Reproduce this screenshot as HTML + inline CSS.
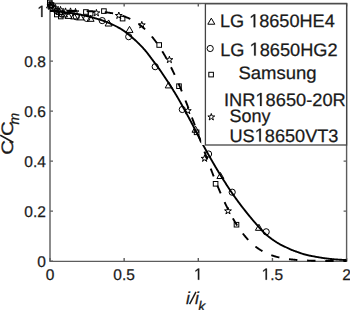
<!DOCTYPE html><html><head><meta charset="utf-8"><style>html,body{margin:0;padding:0;background:#fff;}svg{display:block;font-family:"Liberation Sans",sans-serif;text-rendering:geometricPrecision;} .mk{fill:none;stroke:#000;stroke-width:1;} .t{stroke:#1a1a1a;stroke-width:0.25px;} .h1{fill:transparent;stroke:none;} </style></head><body>
<svg width="350" height="310" viewBox="0 0 350 310">
<rect width="350" height="310" fill="#fff"/>
<g stroke="#5c5c5c" stroke-width="1.4" fill="none">
<path d="M50.0,3.5 H346.6 V261.40000000000003 H50.0 Z"/>
<path d="M50.0,261.10 h3 M346.6,261.10 h-3"/>
<path d="M50.0,211.10 h3 M346.6,211.10 h-3"/>
<path d="M50.0,161.10 h3 M346.6,161.10 h-3"/>
<path d="M50.0,111.10 h3 M346.6,111.10 h-3"/>
<path d="M50.0,61.10 h3 M346.6,61.10 h-3"/>
<path d="M50.0,11.10 h3 M346.6,11.10 h-3"/>
<path d="M50.00,261.1 v-3 M50.00,3.5 v3"/>
<path d="M124.15,261.1 v-3 M124.15,3.5 v3"/>
<path d="M198.30,261.1 v-3 M198.30,3.5 v3"/>
<path d="M272.45,261.1 v-3 M272.45,3.5 v3"/>
<path d="M346.60,261.1 v-3 M346.60,3.5 v3"/>
</g>
<path d="M50.00,11.00 L50.50,11.02 L51.00,11.05 L51.50,11.07 L52.00,11.10 L52.50,11.13 L53.00,11.16 L53.50,11.19 L54.00,11.22 L54.50,11.26 L55.00,11.29 L55.50,11.33 L56.00,11.37 L56.50,11.41 L57.00,11.45 L57.50,11.50 L58.00,11.54 L58.50,11.59 L59.00,11.63 L59.50,11.68 L60.00,11.73 L60.50,11.78 L61.00,11.83 L61.50,11.88 L62.00,11.94 L62.50,11.99 L63.00,12.05 L63.50,12.10 L64.00,12.16 L64.50,12.22 L65.00,12.28 L65.50,12.34 L66.00,12.40 L66.50,12.46 L67.00,12.52 L67.50,12.58 L68.00,12.64 L68.50,12.71 L69.00,12.77 L69.50,12.84 L70.00,12.90 L70.50,12.97 L71.00,13.03 L71.50,13.10 L72.00,13.18 L72.50,13.25 L73.00,13.32 L73.50,13.40 L74.00,13.48 L74.50,13.56 L75.00,13.64 L75.50,13.73 L76.00,13.82 L76.50,13.90 L77.00,13.99 L77.50,14.08 L78.00,14.18 L78.50,14.27 L79.00,14.37 L79.50,14.47 L80.00,14.57 L80.50,14.67 L81.00,14.77 L81.50,14.87 L82.00,14.98 L82.50,15.09 L83.00,15.20 L83.50,15.31 L84.00,15.42 L84.50,15.53 L85.00,15.65 L85.50,15.76 L86.00,15.88 L86.50,16.00 L87.00,16.12 L87.50,16.24 L88.00,16.37 L88.50,16.49 L89.00,16.62 L89.50,16.74 L90.00,16.87 L90.50,17.00 L91.00,17.14 L91.50,17.27 L92.00,17.40 L92.50,17.54 L93.00,17.67 L93.50,17.81 L94.00,17.95 L94.50,18.09 L95.00,18.23 L95.50,18.37 L96.00,18.52 L96.50,18.66 L97.00,18.81 L97.50,18.95 L98.00,19.10 L98.50,19.25 L99.00,19.40 L99.50,19.55 L100.00,19.70 L100.50,19.85 L101.00,20.01 L101.50,20.17 L102.00,20.34 L102.50,20.50 L103.00,20.67 L103.50,20.85 L104.00,21.02 L104.50,21.20 L105.00,21.39 L105.50,21.58 L106.00,21.77 L106.50,21.96 L107.00,22.16 L107.50,22.36 L108.00,22.56 L108.50,22.77 L109.00,22.98 L109.50,23.19 L110.00,23.40 L110.50,23.62 L111.00,23.85 L111.50,24.07 L112.00,24.30 L112.50,24.53 L113.00,24.77 L113.50,25.01 L114.00,25.25 L114.50,25.50 L115.00,25.74 L115.50,25.99 L116.00,26.25 L116.50,26.51 L117.00,26.77 L117.50,27.03 L118.00,27.30 L118.50,27.57 L119.00,27.84 L119.50,28.12 L120.00,28.40 L120.50,28.69 L121.00,28.99 L121.50,29.30 L122.00,29.62 L122.50,29.95 L123.00,30.29 L123.50,30.63 L124.00,30.99 L124.50,31.35 L125.00,31.73 L125.50,32.10 L126.00,32.49 L126.50,32.88 L127.00,33.27 L127.50,33.67 L128.00,34.08 L128.50,34.48 L129.00,34.89 L129.50,35.30 L130.00,35.72 L130.50,36.13 L131.00,36.55 L131.50,36.97 L132.00,37.38 L132.50,37.80 L133.00,38.23 L133.50,38.66 L134.00,39.10 L134.50,39.55 L135.00,40.00 L135.50,40.46 L136.00,40.92 L136.50,41.39 L137.00,41.86 L137.50,42.34 L138.00,42.82 L138.50,43.31 L139.00,43.80 L139.50,44.30 L140.00,44.80 L140.50,45.31 L141.00,45.82 L141.50,46.35 L142.00,46.87 L142.50,47.41 L143.00,47.95 L143.50,48.51 L144.00,49.07 L144.50,49.64 L145.00,50.21 L145.50,50.80 L146.00,51.40 L146.50,52.01 L147.00,52.64 L147.50,53.28 L148.00,53.93 L148.50,54.59 L149.00,55.25 L149.50,55.92 L150.00,56.59 L150.50,57.26 L151.00,57.93 L151.50,58.60 L152.00,59.27 L152.50,59.93 L153.00,60.59 L153.50,61.25 L154.00,61.92 L154.50,62.58 L155.00,63.25 L155.50,63.92 L156.00,64.59 L156.50,65.26 L157.00,65.94 L157.50,66.62 L158.00,67.30 L158.50,67.99 L159.00,68.68 L159.50,69.38 L160.00,70.09 L160.50,70.80 L161.00,71.52 L161.50,72.24 L162.00,72.98 L162.50,73.71 L163.00,74.46 L163.50,75.21 L164.00,75.96 L164.50,76.72 L165.00,77.48 L165.50,78.25 L166.00,79.01 L166.50,79.78 L167.00,80.55 L167.50,81.32 L168.00,82.09 L168.50,82.86 L169.00,83.63 L169.50,84.40 L170.00,85.17 L170.50,85.94 L171.00,86.71 L171.50,87.49 L172.00,88.27 L172.50,89.05 L173.00,89.84 L173.50,90.64 L174.00,91.44 L174.50,92.25 L175.00,93.07 L175.50,93.90 L176.00,94.74 L176.50,95.58 L177.00,96.43 L177.50,97.28 L178.00,98.15 L178.50,99.01 L179.00,99.89 L179.50,100.76 L180.00,101.65 L180.50,102.54 L181.00,103.43 L181.50,104.32 L182.00,105.22 L182.50,106.13 L183.00,107.03 L183.50,107.94 L184.00,108.85 L184.50,109.77 L185.00,110.69 L185.50,111.61 L186.00,112.53 L186.50,113.45 L187.00,114.37 L187.50,115.30 L188.00,116.22 L188.50,117.15 L189.00,118.07 L189.50,119.00 L190.00,119.93 L190.50,120.87 L191.00,121.81 L191.50,122.76 L192.00,123.71 L192.50,124.67 L193.00,125.63 L193.50,126.60 L194.00,127.57 L194.50,128.54 L195.00,129.52 L195.50,130.49 L196.00,131.47 L196.50,132.44 L197.00,133.42 L197.50,134.39 L198.00,135.36 L198.50,136.33 L199.00,137.30 L199.50,138.26 L200.00,139.22 L200.50,140.17 L201.00,141.12 L201.50,142.06 L202.00,142.99 L202.50,143.92 L203.00,144.84 L203.50,145.75 L204.00,146.65 L204.50,147.56 L205.00,148.47 L205.50,149.37 L206.00,150.27 L206.50,151.17 L207.00,152.07 L207.50,152.96 L208.00,153.85 L208.50,154.74 L209.00,155.63 L209.50,156.51 L210.00,157.40 L210.50,158.27 L211.00,159.15 L211.50,160.02 L212.00,160.89 L212.50,161.76 L213.00,162.63 L213.50,163.49 L214.00,164.34 L214.50,165.20 L215.00,166.05 L215.50,166.90 L216.00,167.74 L216.50,168.58 L217.00,169.42 L217.50,170.25 L218.00,171.08 L218.50,171.90 L219.00,172.72 L219.50,173.54 L220.00,174.35 L220.50,175.16 L221.00,175.97 L221.50,176.77 L222.00,177.57 L222.50,178.37 L223.00,179.17 L223.50,179.96 L224.00,180.75 L224.50,181.54 L225.00,182.32 L225.50,183.10 L226.00,183.88 L226.50,184.66 L227.00,185.43 L227.50,186.20 L228.00,186.97 L228.50,187.73 L229.00,188.49 L229.50,189.24 L230.00,189.99 L230.50,190.74 L231.00,191.48 L231.50,192.22 L232.00,192.95 L232.50,193.68 L233.00,194.40 L233.50,195.12 L234.00,195.84 L234.50,196.55 L235.00,197.25 L235.50,197.95 L236.00,198.65 L236.50,199.34 L237.00,200.02 L237.50,200.71 L238.00,201.39 L238.50,202.06 L239.00,202.73 L239.50,203.40 L240.00,204.07 L240.50,204.74 L241.00,205.40 L241.50,206.05 L242.00,206.71 L242.50,207.36 L243.00,208.01 L243.50,208.65 L244.00,209.29 L244.50,209.93 L245.00,210.57 L245.50,211.20 L246.00,211.83 L246.50,212.46 L247.00,213.08 L247.50,213.70 L248.00,214.32 L248.50,214.94 L249.00,215.55 L249.50,216.16 L250.00,216.76 L250.50,217.36 L251.00,217.96 L251.50,218.56 L252.00,219.15 L252.50,219.75 L253.00,220.33 L253.50,220.92 L254.00,221.50 L254.50,222.08 L255.00,222.66 L255.50,223.23 L256.00,223.80 L256.50,224.37 L257.00,224.94 L257.50,225.51 L258.00,226.09 L258.50,226.66 L259.00,227.22 L259.50,227.79 L260.00,228.35 L260.50,228.91 L261.00,229.46 L261.50,230.00 L262.00,230.54 L262.50,231.06 L263.00,231.58 L263.50,232.09 L264.00,232.59 L264.50,233.07 L265.00,233.54 L265.50,234.00 L266.00,234.44 L266.50,234.87 L267.00,235.29 L267.50,235.70 L268.00,236.11 L268.50,236.52 L269.00,236.91 L269.50,237.30 L270.00,237.69 L270.50,238.07 L271.00,238.44 L271.50,238.81 L272.00,239.18 L272.50,239.53 L273.00,239.89 L273.50,240.23 L274.00,240.58 L274.50,240.91 L275.00,241.25 L275.50,241.57 L276.00,241.90 L276.50,242.21 L277.00,242.53 L277.50,242.83 L278.00,243.14 L278.50,243.43 L279.00,243.73 L279.50,244.02 L280.00,244.30 L280.50,244.58 L281.00,244.84 L281.50,245.10 L282.00,245.35 L282.50,245.59 L283.00,245.83 L283.50,246.06 L284.00,246.30 L284.50,246.53 L285.00,246.77 L285.50,247.00 L286.00,247.25 L286.50,247.49 L287.00,247.74 L287.50,247.98 L288.00,248.23 L288.50,248.47 L289.00,248.72 L289.50,248.95 L290.00,249.19 L290.50,249.41 L291.00,249.63 L291.50,249.84 L292.00,250.04 L292.50,250.24 L293.00,250.43 L293.50,250.62 L294.00,250.80 L294.50,250.98 L295.00,251.16 L295.50,251.34 L296.00,251.51 L296.50,251.69 L297.00,251.86 L297.50,252.04 L298.00,252.22 L298.50,252.40 L299.00,252.58 L299.50,252.76 L300.00,252.94 L300.50,253.12 L301.00,253.29 L301.50,253.46 L302.00,253.62 L302.50,253.78 L303.00,253.93 L303.50,254.08 L304.00,254.22 L304.50,254.36 L305.00,254.50 L305.50,254.64 L306.00,254.77 L306.50,254.90 L307.00,255.02 L307.50,255.15 L308.00,255.26 L308.50,255.38 L309.00,255.49 L309.50,255.59 L310.00,255.70 L310.50,255.80 L311.00,255.89 L311.50,255.99 L312.00,256.08 L312.50,256.17 L313.00,256.26 L313.50,256.35 L314.00,256.44 L314.50,256.54 L315.00,256.63 L315.50,256.72 L316.00,256.81 L316.50,256.90 L317.00,256.99 L317.50,257.07 L318.00,257.16 L318.50,257.25 L319.00,257.33 L319.50,257.42 L320.00,257.50 L320.50,257.59 L321.00,257.67 L321.50,257.76 L322.00,257.84 L322.50,257.93 L323.00,258.01 L323.50,258.08 L324.00,258.16 L324.50,258.23 L325.00,258.30 L325.50,258.36 L326.00,258.43 L326.50,258.49 L327.00,258.56 L327.50,258.62 L328.00,258.68 L328.50,258.74 L329.00,258.80 L329.50,258.86 L330.00,258.91 L330.50,258.97 L331.00,259.02 L331.50,259.07 L332.00,259.12 L332.50,259.16 L333.00,259.21 L333.50,259.25 L334.00,259.29 L334.50,259.33 L335.00,259.37 L335.50,259.41 L336.00,259.45 L336.50,259.48 L337.00,259.52 L337.50,259.55 L338.00,259.58 L338.50,259.62 L339.00,259.65 L339.50,259.68 L340.00,259.71 L340.50,259.74 L341.00,259.77 L341.50,259.81 L342.00,259.84 L342.50,259.87 L343.00,259.90 L343.50,259.93 L344.00,259.96 L344.50,259.99 L345.00,260.01 L345.50,260.04 L346.00,260.07 L346.50,260.09" fill="none" stroke="#000" stroke-width="1.9" stroke-linejoin="round"/>
<path d="M50.00,11.00 L50.50,11.00 L51.00,11.00 L51.50,11.00 L52.00,11.00 L52.50,11.00 L53.00,11.00 L53.50,11.00 L54.00,11.00 L54.50,11.00 L55.00,11.00 L55.50,11.00 L56.00,11.00 L56.50,11.00 L57.00,11.00 L57.50,11.00 L58.00,11.00 L58.50,11.00 L59.00,11.00 L59.50,11.00 L60.00,11.00 L60.50,11.00 L61.00,11.00 L61.50,11.00 L62.00,11.00 L62.50,11.00 L63.00,11.00 L63.50,11.00 L64.00,11.00 L64.50,11.00 L65.00,11.00 L65.50,11.00 L66.00,11.00 L66.50,11.00 L67.00,11.00 L67.50,11.00 L68.00,11.00 L68.50,11.00 L69.00,11.01 L69.50,11.01 L70.00,11.01 L70.50,11.01 L71.00,11.01 L71.50,11.01 L72.00,11.01 L72.50,11.01 L73.00,11.01 L73.50,11.02 L74.00,11.02 L74.50,11.02 L75.00,11.02 L75.50,11.02 L76.00,11.03 L76.50,11.03 L77.00,11.03 L77.50,11.04 L78.00,11.04 L78.50,11.04 L79.00,11.05 L79.50,11.05 L80.00,11.06 L80.50,11.06 L81.00,11.07 L81.50,11.07 L82.00,11.08 L82.50,11.08 L83.00,11.09 L83.50,11.10 L84.00,11.10 L84.50,11.11 L85.00,11.12 L85.50,11.13 L86.00,11.14 L86.50,11.15 L87.00,11.16 L87.50,11.17 L88.00,11.18 L88.50,11.20 L89.00,11.21 L89.50,11.22 L90.00,11.24 L90.50,11.25 L91.00,11.27 L91.50,11.29 L92.00,11.31 L92.50,11.32 L93.00,11.34 L93.50,11.37 L94.00,11.39 L94.50,11.41 L95.00,11.43 L95.50,11.46 L96.00,11.48 L96.50,11.51 L97.00,11.54 L97.50,11.57 L98.00,11.60 L98.50,11.63 L99.00,11.67 L99.50,11.70 L100.00,11.74 L100.50,11.78 L101.00,11.82 L101.50,11.86 L102.00,11.90 L102.50,11.95 L103.00,11.99 L103.50,12.04 L104.00,12.09 L104.50,12.14 L105.00,12.20 L105.50,12.25 L106.00,12.31 L106.50,12.37 L107.00,12.43 L107.50,12.50 L108.00,12.57 L108.50,12.64 L109.00,12.71 L109.50,12.78 L110.00,12.86 L110.50,12.94 L111.00,13.02 L111.50,13.10 L112.00,13.19 L112.50,13.28 L113.00,13.38 L113.50,13.47 L114.00,13.57 L114.50,13.68 L115.00,13.78 L115.50,13.89 L116.00,14.00 L116.50,14.12 L117.00,14.24 L117.50,14.36 L118.00,14.49 L118.50,14.62 L119.00,14.76 L119.50,14.89 L120.00,15.04 L120.50,15.18 L121.00,15.34 L121.50,15.49 L122.00,15.65 L122.50,15.81 L123.00,15.98 L123.50,16.16 L124.00,16.33 L124.50,16.52 L125.00,16.70 L125.50,16.90 L126.00,17.09 L126.50,17.30 L127.00,17.51 L127.50,17.72 L128.00,17.94 L128.50,18.16 L129.00,18.39 L129.50,18.63 L130.00,18.87 L130.50,19.12 L131.00,19.37 L131.50,19.63 L132.00,19.90 L132.50,20.17 L133.00,20.45 L133.50,20.73 L134.00,21.02 L134.50,21.32 L135.00,21.63 L135.50,21.94 L136.00,22.26 L136.50,22.58 L137.00,22.92 L137.50,23.26 L138.00,23.61 L138.50,23.96 L139.00,24.33 L139.50,24.70 L140.00,25.08 L140.50,25.46 L141.00,25.86 L141.50,26.26 L142.00,26.67 L142.50,27.09 L143.00,27.52 L143.50,27.95 L144.00,28.40 L144.50,28.85 L145.00,29.31 L145.50,29.78 L146.00,30.26 L146.50,30.75 L147.00,31.25 L147.50,31.76 L148.00,32.28 L148.50,32.80 L149.00,33.34 L149.50,33.88 L150.00,34.44 L150.50,35.00 L151.00,35.58 L151.50,36.16 L152.00,36.76 L152.50,37.36 L153.00,37.97 L153.50,38.60 L154.00,39.23 L154.50,39.88 L155.00,40.53 L155.50,41.20 L156.00,41.88 L156.50,42.56 L157.00,43.26 L157.50,43.97 L158.00,44.69 L158.50,45.42 L159.00,46.16 L159.50,46.91 L160.00,47.67 L160.50,48.44 L161.00,49.23 L161.50,50.02 L162.00,50.83 L162.50,51.64 L163.00,52.47 L163.50,53.31 L164.00,54.16 L164.50,55.02 L165.00,55.89 L165.50,56.77 L166.00,57.67 L166.50,58.57 L167.00,59.49 L167.50,60.41 L168.00,61.35 L168.50,62.30 L169.00,63.26 L169.50,64.23 L170.00,65.21 L170.50,66.20 L171.00,67.20 L171.50,68.22 L172.00,69.24 L172.50,70.28 L173.00,71.32 L173.50,72.37 L174.00,73.44 L174.50,74.52 L175.00,75.60 L175.50,76.70 L176.00,77.80 L176.50,78.92 L177.00,80.04 L177.50,81.18 L178.00,82.32 L178.50,83.48 L179.00,84.64 L179.50,85.81 L180.00,87.00 L180.50,88.19 L181.00,89.38 L181.50,90.59 L182.00,91.81 L182.50,93.03 L183.00,94.26 L183.50,95.50 L184.00,96.75 L184.50,98.01 L185.00,99.27 L185.50,100.54 L186.00,101.82 L186.50,103.10 L187.00,104.39 L187.50,105.69 L188.00,106.99 L188.50,108.30 L189.00,109.62 L189.50,110.94 L190.00,112.26 L190.50,113.59 L191.00,114.93 L191.50,116.27 L192.00,117.61 L192.50,118.96 L193.00,120.31 L193.50,121.67 L194.00,123.03 L194.50,124.39 L195.00,125.76 L195.50,127.13 L196.00,128.50 L196.50,129.87 L197.00,131.24 L197.50,132.62 L198.00,134.00 L198.50,135.38 L199.00,136.76 L199.50,138.13 L200.00,139.51 L200.50,140.89 L201.00,142.27 L201.50,143.65 L202.00,145.03 L202.50,146.41 L203.00,147.78 L203.50,149.16 L204.00,150.53 L204.50,151.90 L205.00,153.26 L205.50,154.63 L206.00,155.99 L206.50,157.34 L207.00,158.70 L207.50,160.05 L208.00,161.39 L208.50,162.74 L209.00,164.07 L209.50,165.40 L210.00,166.73 L210.50,168.05 L211.00,169.37 L211.50,170.68 L212.00,171.98 L212.50,173.28 L213.00,174.57 L213.50,175.85 L214.00,177.12 L214.50,178.39 L215.00,179.65 L215.50,180.91 L216.00,182.15 L216.50,183.39 L217.00,184.62 L217.50,185.84 L218.00,187.05 L218.50,188.25 L219.00,189.45 L219.50,190.63 L220.00,191.80 L220.50,192.97 L221.00,194.12 L221.50,195.27 L222.00,196.40 L222.50,197.53 L223.00,198.64 L223.50,199.75 L224.00,200.84 L224.50,201.92 L225.00,202.99 L225.50,204.05 L226.00,205.10 L226.50,206.14 L227.00,207.16 L227.50,208.18 L228.00,209.18 L228.50,210.17 L229.00,211.15 L229.50,212.12 L230.00,213.08 L230.50,214.02 L231.00,214.95 L231.50,215.88 L232.00,216.78 L232.50,217.68 L233.00,218.57 L233.50,219.44 L234.00,220.30 L234.50,221.15 L235.00,221.99 L235.50,222.81 L236.00,223.62 L236.50,224.42 L237.00,225.21 L237.50,225.99 L238.00,226.75 L238.50,227.51 L239.00,228.25 L239.50,228.98 L240.00,229.69 L240.50,230.40 L241.00,231.09 L241.50,231.78 L242.00,232.45 L242.50,233.11 L243.00,233.76 L243.50,234.39 L244.00,235.02 L244.50,235.63 L245.00,236.23 L245.50,236.83 L246.00,237.41 L246.50,237.98 L247.00,238.54 L247.50,239.09 L248.00,239.63 L248.50,240.15 L249.00,240.67 L249.50,241.18 L250.00,241.68 L250.50,242.17 L251.00,242.64 L251.50,243.11 L252.00,243.57 L252.50,244.02 L253.00,244.46 L253.50,244.89 L254.00,245.31 L254.50,245.72 L255.00,246.12 L255.50,246.52 L256.00,246.90 L256.50,247.28 L257.00,247.65 L257.50,248.01 L258.00,248.36 L258.50,248.71 L259.00,249.04 L259.50,249.37 L260.00,249.69 L260.50,250.01 L261.00,250.31 L261.50,250.61 L262.00,250.90 L262.50,251.19 L263.00,251.47 L263.50,251.74 L264.00,252.00 L264.50,252.26 L265.00,252.51 L265.50,252.76 L266.00,253.00 L266.50,253.23 L267.00,253.46 L267.50,253.68 L268.00,253.89 L268.50,254.10 L269.00,254.31 L269.50,254.51 L270.00,254.70 L270.50,254.89 L271.00,255.07 L271.50,255.25 L272.00,255.43 L272.50,255.60 L273.00,255.76 L273.50,255.92 L274.00,256.08 L274.50,256.23 L275.00,256.38 L275.50,256.52 L276.00,256.66 L276.50,256.80 L277.00,256.93 L277.50,257.06 L278.00,257.18 L278.50,257.31 L279.00,257.42 L279.50,257.54 L280.00,257.65 L280.50,257.76 L281.00,257.86 L281.50,257.96 L282.00,258.06 L282.50,258.16 L283.00,258.25 L283.50,258.34 L284.00,258.43 L284.50,258.51 L285.00,258.60 L285.50,258.68 L286.00,258.75 L286.50,258.83 L287.00,258.90 L287.50,258.97 L288.00,259.04 L288.50,259.11 L289.00,259.17 L289.50,259.24 L290.00,259.30 L290.50,259.36 L291.00,259.41 L291.50,259.47 L292.00,259.52 L292.50,259.57 L293.00,259.62 L293.50,259.67 L294.00,259.72 L294.50,259.76 L295.00,259.81 L295.50,259.85 L296.00,259.89 L296.50,259.93 L297.00,259.97 L297.50,260.01 L298.00,260.05 L298.50,260.08 L299.00,260.12 L299.50,260.15 L300.00,260.18 L300.50,260.21 L301.00,260.24 L301.50,260.27 L302.00,260.30 L302.50,260.33 L303.00,260.35 L303.50,260.38 L304.00,260.40 L304.50,260.43 L305.00,260.45 L305.50,260.47 L306.00,260.49 L306.50,260.51 L307.00,260.53 L307.50,260.55 L308.00,260.57 L308.50,260.59 L309.00,260.61 L309.50,260.62 L310.00,260.64 L310.50,260.66 L311.00,260.67 L311.50,260.69 L312.00,260.70 L312.50,260.71 L313.00,260.73 L313.50,260.74 L314.00,260.75 L314.50,260.76 L315.00,260.78 L315.50,260.79 L316.00,260.80 L316.50,260.81 L317.00,260.82 L317.50,260.83 L318.00,260.84 L318.50,260.85 L319.00,260.86 L319.50,260.86 L320.00,260.87 L320.50,260.88 L321.00,260.89 L321.50,260.90 L322.00,260.90 L322.50,260.91 L323.00,260.92 L323.50,260.92 L324.00,260.93 L324.50,260.93 L325.00,260.94 L325.50,260.95 L326.00,260.95 L326.50,260.96 L327.00,260.96 L327.50,260.97 L328.00,260.97 L328.50,260.98 L329.00,260.98 L329.50,260.98 L330.00,260.99 L330.50,260.99 L331.00,261.00 L331.50,261.00 L332.00,261.00 L332.50,261.01 L333.00,261.01 L333.50,261.01 L334.00,261.02 L334.50,261.02 L335.00,261.02 L335.50,261.02 L336.00,261.03 L336.50,261.03 L337.00,261.03 L337.50,261.03 L338.00,261.04 L338.50,261.04 L339.00,261.04 L339.50,261.04 L340.00,261.05 L340.50,261.05 L341.00,261.05 L341.50,261.05 L342.00,261.05 L342.50,261.05 L343.00,261.06 L343.50,261.06 L344.00,261.06 L344.50,261.06 L345.00,261.06 L345.50,261.06 L346.00,261.06 L346.50,261.07" fill="none" stroke="#000" stroke-width="1.9" stroke-dasharray="8.40 9.76" stroke-dashoffset="-0.33"/>
<path d="M50.00,1.86 L53.50,7.92 L46.50,7.92 Z" class="mk"/>
<path d="M54.50,5.36 L58.00,11.42 L51.00,11.42 Z" class="mk"/>
<path d="M59.50,8.36 L63.00,14.42 L56.00,14.42 Z" class="mk"/>
<path d="M64.00,10.86 L67.50,16.92 L60.50,16.92 Z" class="mk"/>
<path d="M68.50,12.36 L72.00,18.42 L65.00,18.42 Z" class="mk"/>
<path d="M74.00,12.86 L77.50,18.92 L70.50,18.92 Z" class="mk"/>
<path d="M80.50,13.86 L84.00,19.92 L77.00,19.92 Z" class="mk"/>
<path d="M90.60,15.26 L94.10,21.32 L87.10,21.32 Z" class="mk"/>
<path d="M108.60,19.96 L112.10,26.02 L105.10,26.02 Z" class="mk"/>
<path d="M129.50,26.36 L133.00,32.42 L126.00,32.42 Z" class="mk"/>
<path d="M168.70,81.86 L172.20,87.92 L165.20,87.92 Z" class="mk"/>
<path d="M195.50,126.16 L199.00,132.22 L192.00,132.22 Z" class="mk"/>
<path d="M220.40,172.46 L223.90,178.52 L216.90,178.52 Z" class="mk"/>
<path d="M258.90,224.26 L262.40,230.32 L255.40,230.32 Z" class="mk"/>
<circle cx="50.50" cy="4.50" r="3.1" class="mk"/>
<circle cx="52.50" cy="7.50" r="3.1" class="mk"/>
<circle cx="57.00" cy="11.00" r="3.1" class="mk"/>
<circle cx="62.00" cy="14.00" r="3.1" class="mk"/>
<circle cx="76.30" cy="16.80" r="3.1" class="mk"/>
<circle cx="86.70" cy="18.40" r="3.1" class="mk"/>
<circle cx="102.20" cy="20.60" r="3.1" class="mk"/>
<circle cx="128.70" cy="36.70" r="3.1" class="mk"/>
<circle cx="155.20" cy="66.70" r="3.1" class="mk"/>
<circle cx="182.30" cy="109.50" r="3.1" class="mk"/>
<circle cx="208.60" cy="154.00" r="3.1" class="mk"/>
<circle cx="232.20" cy="192.20" r="3.1" class="mk"/>
<circle cx="266.20" cy="231.80" r="3.1" class="mk"/>
<rect x="47.50" y="0.20" width="4.6" height="4.6" class="mk"/>
<rect x="49.20" y="2.70" width="4.6" height="4.6" class="mk"/>
<rect x="54.50" y="12.20" width="4.6" height="4.6" class="mk"/>
<rect x="58.50" y="14.20" width="4.6" height="4.6" class="mk"/>
<rect x="83.60" y="9.70" width="4.6" height="4.6" class="mk"/>
<rect x="88.30" y="11.40" width="4.6" height="4.6" class="mk"/>
<rect x="101.60" y="8.80" width="4.6" height="4.6" class="mk"/>
<rect x="120.30" y="16.30" width="4.6" height="4.6" class="mk"/>
<rect x="156.90" y="42.70" width="4.6" height="4.6" class="mk"/>
<rect x="176.70" y="83.90" width="4.6" height="4.6" class="mk"/>
<rect x="194.30" y="130.00" width="4.6" height="4.6" class="mk"/>
<rect x="213.30" y="181.50" width="4.6" height="4.6" class="mk"/>
<rect x="234.20" y="222.40" width="4.6" height="4.6" class="mk"/>
<path d="M50.50,2.90 L51.31,5.39 L53.92,5.39 L51.81,6.92 L52.62,9.41 L50.50,7.88 L48.38,9.41 L49.19,6.92 L47.08,5.39 L49.69,5.39 Z" class="mk"/>
<path d="M55.50,4.40 L56.31,6.89 L58.92,6.89 L56.81,8.42 L57.62,10.91 L55.50,9.38 L53.38,10.91 L54.19,8.42 L52.08,6.89 L54.69,6.89 Z" class="mk"/>
<path d="M60.50,6.40 L61.31,8.89 L63.92,8.89 L61.81,10.42 L62.62,12.91 L60.50,11.38 L58.38,12.91 L59.19,10.42 L57.08,8.89 L59.69,8.89 Z" class="mk"/>
<path d="M65.50,7.90 L66.31,10.39 L68.92,10.39 L66.81,11.92 L67.62,14.41 L65.50,12.88 L63.38,14.41 L64.19,11.92 L62.08,10.39 L64.69,10.39 Z" class="mk"/>
<path d="M70.50,7.90 L71.31,10.39 L73.92,10.39 L71.81,11.92 L72.62,14.41 L70.50,12.88 L68.38,14.41 L69.19,11.92 L67.08,10.39 L69.69,10.39 Z" class="mk"/>
<path d="M75.50,8.40 L76.31,10.89 L78.92,10.89 L76.81,12.42 L77.62,14.91 L75.50,13.38 L73.38,14.91 L74.19,12.42 L72.08,10.89 L74.69,10.89 Z" class="mk"/>
<path d="M96.40,9.40 L97.21,11.89 L99.82,11.89 L97.71,13.42 L98.52,15.91 L96.40,14.38 L94.28,15.91 L95.09,13.42 L92.98,11.89 L95.59,11.89 Z" class="mk"/>
<path d="M118.80,12.00 L119.61,14.49 L122.22,14.49 L120.11,16.02 L120.92,18.51 L118.80,16.98 L116.68,18.51 L117.49,16.02 L115.38,14.49 L117.99,14.49 Z" class="mk"/>
<path d="M141.80,21.40 L142.61,23.89 L145.22,23.89 L143.11,25.42 L143.92,27.91 L141.80,26.38 L139.68,27.91 L140.49,25.42 L138.38,23.89 L140.99,23.89 Z" class="mk"/>
<path d="M169.40,56.20 L170.21,58.69 L172.82,58.69 L170.71,60.22 L171.52,62.71 L169.40,61.18 L167.28,62.71 L168.09,60.22 L165.98,58.69 L168.59,58.69 Z" class="mk"/>
<path d="M187.80,107.20 L188.61,109.69 L191.22,109.69 L189.11,111.22 L189.92,113.71 L187.80,112.18 L185.68,113.71 L186.49,111.22 L184.38,109.69 L186.99,109.69 Z" class="mk"/>
<path d="M204.60,154.90 L205.41,157.39 L208.02,157.39 L205.91,158.92 L206.72,161.41 L204.60,159.88 L202.48,161.41 L203.29,158.92 L201.18,157.39 L203.79,157.39 Z" class="mk"/>
<path d="M228.00,207.40 L228.81,209.89 L231.42,209.89 L229.31,211.42 L230.12,213.91 L228.00,212.38 L225.88,213.91 L226.69,211.42 L224.58,209.89 L227.19,209.89 Z" class="mk"/>
<rect x="201.2" y="4.6" width="5" height="140.4" fill="#fff"/>
<rect x="205.4" y="3.8" width="141.2" height="141.2" fill="#fff" stroke="#444" stroke-width="1.3"/>
<path d="M211.30,18.16 L214.80,24.22 L207.80,24.22 Z" class="mk"/>
<circle cx="210.20" cy="48.50" r="3.1" class="mk"/>
<rect x="208.80" y="72.30" width="4.6" height="4.6" class="mk"/>
<path d="M211.30,113.50 L212.11,115.99 L214.72,115.99 L212.61,117.52 L213.42,120.01 L211.30,118.48 L209.18,120.01 L209.99,117.52 L207.88,115.99 L210.49,115.99 Z" class="mk"/>
<g font-size="18" fill="#1a1a1a" class="t">
<text transform="translate(219.9,27.2) scale(1.007,1)" id="one1">LG <tspan class="h1">1</tspan>8650HE4</text><path transform="translate(219.9,27.2) scale(1.007,1) translate(29.016,0.000) scale(0.008789,-0.008789)" d="M515 0V1285L197 1058V1228L540 1466H696V0Z" fill="#1a1a1a" stroke="#1a1a1a" stroke-width="28.4"/>
<text transform="translate(220.2,55.6) scale(1.011,1)" id="one2">LG <tspan class="h1">1</tspan>8650HG2</text><path transform="translate(220.2,55.6) scale(1.011,1) translate(29.016,0.000) scale(0.008789,-0.008789)" d="M515 0V1285L197 1058V1228L540 1466H696V0Z" fill="#1a1a1a" stroke="#1a1a1a" stroke-width="28.4"/>
<text transform="translate(238.5,79.2) scale(1.027,1)">Samsung</text>
<text transform="translate(224,105.9) scale(1.014,1)" id="one3">INR<tspan class="h1">1</tspan>8650-20R</text><path transform="translate(224,105.9) scale(1.014,1) translate(31.000,0.000) scale(0.008789,-0.008789)" d="M515 0V1285L197 1058V1228L540 1466H696V0Z" fill="#1a1a1a" stroke="#1a1a1a" stroke-width="28.4"/>
<text x="229.5" y="121.9">Sony</text>
<text transform="translate(229.5,141.6) scale(1.0075,1)" id="one4">US<tspan class="h1">1</tspan>8650VT3</text><path transform="translate(229.5,141.6) scale(1.0075,1) translate(25.016,0.000) scale(0.008789,-0.008789)" d="M515 0V1285L197 1058V1228L540 1466H696V0Z" fill="#1a1a1a" stroke="#1a1a1a" stroke-width="28.4"/>
</g>
<g font-size="15.5" fill="#1a1a1a" class="t">
<text x="45.9" y="266.90" text-anchor="end">0</text>
<text x="45.9" y="216.90" text-anchor="end">0.2</text>
<text x="45.9" y="166.90" text-anchor="end">0.4</text>
<text x="45.9" y="116.90" text-anchor="end">0.6</text>
<text x="45.9" y="66.90" text-anchor="end">0.8</text>
<text x="45.9" y="16.90" text-anchor="end" id="one5"><tspan class="h1">1</tspan></text><path transform="translate(37.275,16.900) scale(0.007568,-0.007568)" d="M515 0V1285L197 1058V1228L540 1466H696V0Z" fill="#1a1a1a" stroke="#1a1a1a" stroke-width="33.0"/>
<text x="50.00" y="279.7" text-anchor="middle">0</text>
<text x="124.15" y="279.7" text-anchor="middle">0.5</text>
<text x="198.30" y="279.7" text-anchor="middle" id="one6"><tspan class="h1">1</tspan></text><path transform="translate(193.988,279.700) scale(0.007568,-0.007568)" d="M515 0V1285L197 1058V1228L540 1466H696V0Z" fill="#1a1a1a" stroke="#1a1a1a" stroke-width="33.0"/>
<text x="272.45" y="279.7" text-anchor="middle" id="one7"><tspan class="h1">1</tspan>.5</text><path transform="translate(261.669,279.700) scale(0.007568,-0.007568)" d="M515 0V1285L197 1058V1228L540 1466H696V0Z" fill="#1a1a1a" stroke="#1a1a1a" stroke-width="33.0"/>
<text x="346.60" y="279.7" text-anchor="middle">2</text>
</g>
<g fill="#1a1a1a" font-style="italic" font-size="17.3" class="t">
<text x="186.0" y="304.4">i</text>
<text x="195.0" y="304.4">i</text>
<text x="198.2" y="310.5" font-size="14">k</text>
</g>
<path d="M189.6,304.2 L196.0,291.9" stroke="#1a1a1a" stroke-width="1.45" fill="none"/>
<g fill="#1a1a1a" font-size="16.5" class="t">
<text transform="translate(13.0,154.8) rotate(-90) scale(1.24,1)">C</text>
<text transform="translate(13.0,136.1) rotate(-90) scale(1.24,1)">C</text>
<text transform="translate(18.7,124.4) rotate(-90)" font-size="14" font-style="italic">m</text>
</g>
<path d="M13.4,142.6 L0.2,135.2" stroke="#1a1a1a" stroke-width="1.7" fill="none"/>
</svg></body></html>
